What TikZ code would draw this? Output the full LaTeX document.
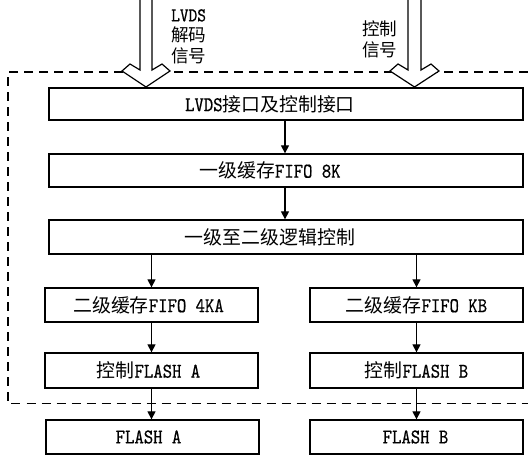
\documentclass[tikz,border=0pt]{standalone}
\usepackage{fontspec}
\setmainfont{lmmono10-regular.otf}[FakeBold=0.6, FakeStretch=0.85]
\newfontfamily\cjkfont{Noto Sans CJK SC}[Scale=0.9]
\newcommand\zhs[1]{{\cjkfont #1}}
\usetikzlibrary{arrows.meta}
\tikzset{
  box/.style={draw, line width=1.3pt, inner sep=0pt, minimum width=213pt, minimum height=34pt,
    font=\fontsize{21}{22}\selectfont},
  wide/.style={box, minimum width=474pt},
  conn/.style={line width=1.2pt, -{Triangle[length=8pt,width=8pt]}},
  frame/.style={line width=1.3pt, dash pattern=on 9pt off 6pt},
  hollow/.style={draw, fill=white, line width=1.2pt, line join=miter},
  lab/.style={inner sep=0pt, align=left, font=\fontsize{19.5}{20.5}\selectfont}
}
\begin{document}
\begin{tikzpicture}[x=1pt, y=-1pt]
\useasboundingbox (0,0) rectangle (528,455);
% dashed frame
\draw[frame] (528,72) -- (8,72) -- (8,403.5) -- (528,403.5);
% hollow input arrows
\filldraw[hollow] (140,-2) -- (140,70) -- (130,64) -- (122,71) -- (146,87) -- (170,71) -- (162,64) -- (152,70) -- (152,-2);
\filldraw[hollow] (408,-2) -- (408,70) -- (398,64) -- (390,71) -- (414.5,87) -- (439,71) -- (431,64) -- (421,70) -- (421,-2);
\node[lab, anchor=north west] (l1) at (171,9) {LVDS\\\zhs{解码}\\\zhs{信号}};
\node[lab, anchor=north west] (l2) at (362,21) {\zhs{控制}\\\zhs{信号}};
% boxes
\node[wide, minimum height=32pt] (b1) at (286,104) {LVDS\zhs{接口及控制接口}\hspace*{32pt}};
\node[wide, minimum height=33pt] (b2) at (286,170.5) {\zhs{一级缓存}FIFO 8K\hspace*{32pt}};
\node[wide] (b3) at (286,237) {\zhs{一级至二级逻辑控制}\hspace*{32pt}};
\node[box] (b4l) at (151.5,305) {\zhs{二级缓存}FIFO 4KA\hspace*{6pt}};
\node[box] (b4r) at (416.5,305) {\zhs{二级缓存}FIFO KB};
\node[box, minimum height=35pt] (b5l) at (151.5,370.5) {\zhs{控制}FLASH A\hspace*{6pt}};
\node[box, minimum height=35pt] (b5r) at (416.5,370.5) {\zhs{控制}FLASH B};
\node[box] (b6l) at (152.5,437) {FLASH A\hspace*{8pt}};
\node[box] (b6r) at (416.5,437) {FLASH B\hspace*{2pt}};
% connectors
\draw[conn] (b1.south -| 285,0) -- (b2.north -| 285,0);
\draw[conn] (b2.south -| 285,0) -- (b3.north -| 285,0);
\draw[conn] (b3.south -| b4l) -- (b4l.north);
\draw[conn] (b3.south -| b4r) -- (b4r.north);
\draw[conn] (b4l.south) -- (b5l.north);
\draw[conn] (b4r.south) -- (b5r.north);
\draw[conn] (b5l.south) -- (b5l.south |- b6l.north);
\draw[conn] (b5r.south) -- (b6r.north);
\end{tikzpicture}
\end{document}
